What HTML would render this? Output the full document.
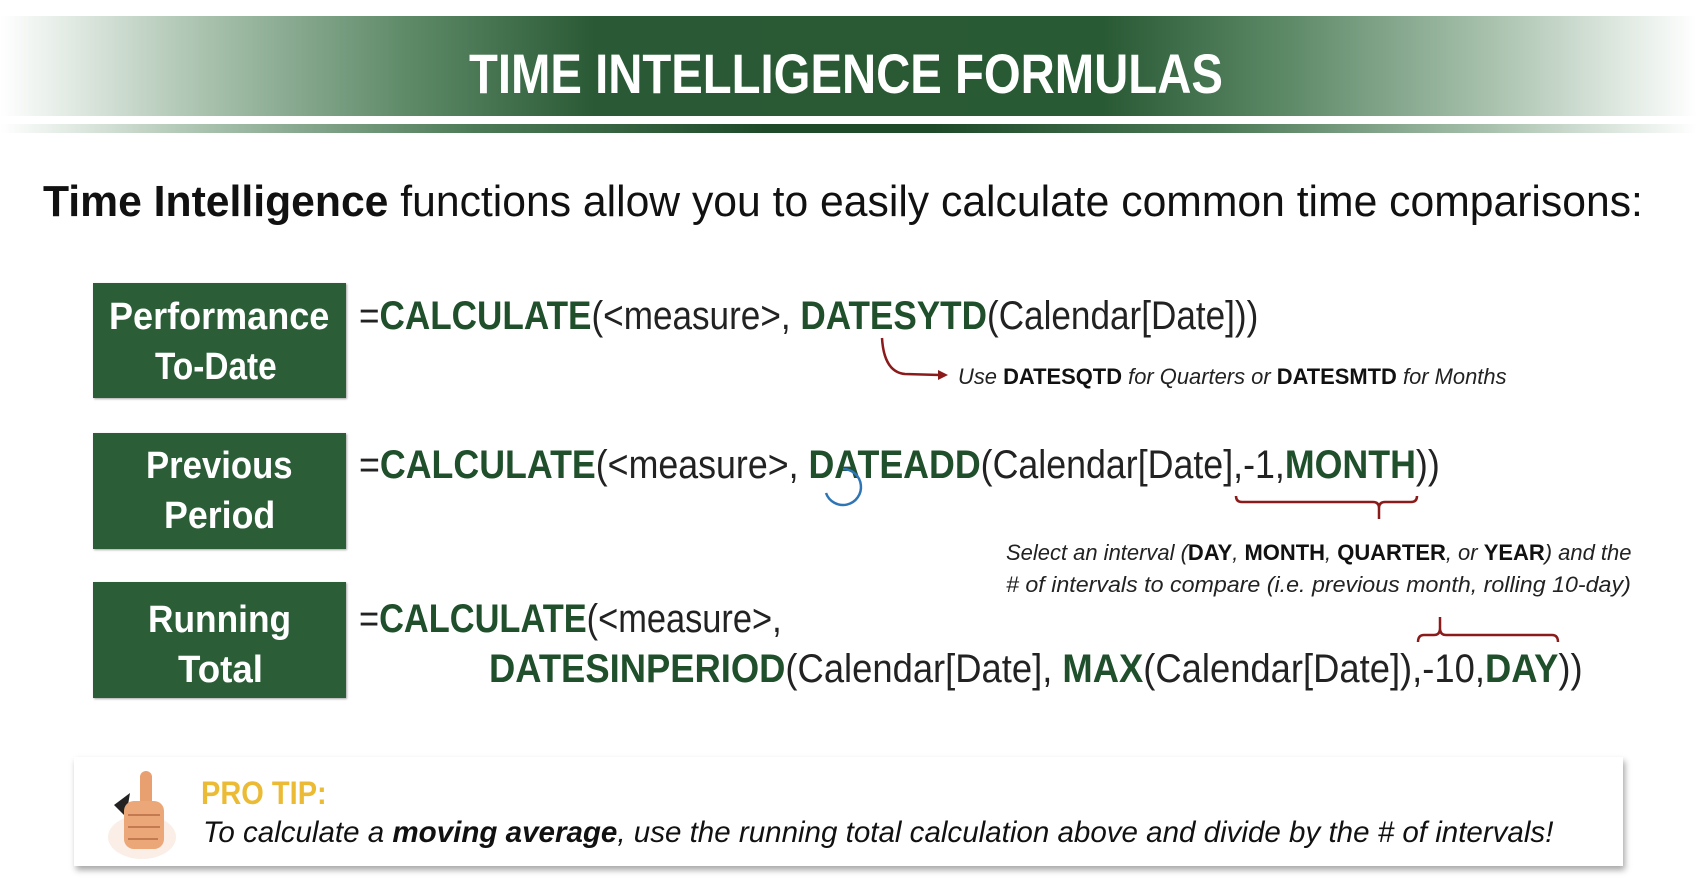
<!DOCTYPE html>
<html><head><meta charset="utf-8">
<style>
html,body{margin:0;padding:0;background:#fff;}
body{width:1697px;height:883px;position:relative;overflow:hidden;font-family:"Liberation Sans",sans-serif;}
.t{position:absolute;white-space:nowrap;line-height:1;transform-origin:0 0;}
.g{color:#1f4f2b;font-weight:bold;}
.box{position:absolute;left:93px;width:253px;background:#2b5d37;box-shadow:1px 1px 2px rgba(0,0,0,.35);}
.bl{position:absolute;color:#fff;font-weight:bold;font-size:38px;white-space:nowrap;line-height:1;transform-origin:0 0;}
.it{font-style:italic;color:#222;}
.it b{font-style:normal;color:#111;}
</style></head>
<body>
<div style="position:absolute;left:0;top:16px;width:1697px;height:100px;background:linear-gradient(90deg,#fff 0%,#a9c2ae 12%,#5e8a68 24%,#2a5a35 35%,#285a34 65%,#5e8a68 76%,#a9c2ae 88%,#fff 100%);"></div>
<div style="position:absolute;left:0;top:124px;width:1697px;height:9px;background:linear-gradient(90deg,#fff 0%,#a9c2ae 12%,#4c7a56 28%,#1f4a2a 45%,#1f4a2a 55%,#4c7a56 72%,#a9c2ae 88%,#fff 100%);"></div>
<div class="t" id="title" style="color:#fff;font-weight:bold;font-size:56px;" data-w="754" data-x="469" data-b="94">TIME INTELLIGENCE FORMULAS</div>

<div class="t" style="font-size:44px;color:#111;" data-w="1600" data-x="43" data-b="217"><b>Time Intelligence</b> functions allow you to easily calculate common time comparisons:</div>

<div class="box" style="top:283px;height:115px;"></div>
<div class="bl" data-w="220" data-x="109" data-b="330">Performance</div>
<div class="bl" data-w="122" data-x="155" data-b="380">To-Date</div>

<div class="box" style="top:433px;height:116px;"></div>
<div class="bl" data-w="147" data-x="146" data-b="479">Previous</div>
<div class="bl" data-w="111" data-x="164" data-b="529">Period</div>

<div class="box" style="top:582px;height:116px;"></div>
<div class="bl" data-w="143" data-x="148" data-b="633">Running</div>
<div class="bl" data-w="85" data-x="178" data-b="683">Total</div>

<div class="t" style="font-size:40px;color:#222;" data-w="899" data-x="359" data-b="330">=<span class="g">CALCULATE</span>(&lt;measure&gt;, <span class="g">DATESYTD</span>(Calendar[Date]))</div>
<div class="t" style="font-size:40px;color:#222;" data-w="1081" data-x="359" data-b="479">=<span class="g">CALCULATE</span>(&lt;measure&gt;, <span class="g">DATEADD</span>(Calendar[Date],-1,<span class="g">MONTH</span>))</div>
<div class="t" style="font-size:40px;color:#222;" data-w="423" data-x="359" data-b="633">=<span class="g">CALCULATE</span>(&lt;measure&gt;,</div>
<div class="t" style="font-size:40px;color:#222;" data-w="1094" data-x="489" data-b="683"><span class="g">DATESINPERIOD</span>(Calendar[Date], <span class="g">MAX</span>(Calendar[Date]),-10,<span class="g">DAY</span>))</div>

<svg width="1697" height="883" style="position:absolute;left:0;top:0;">
  <path d="M882 338 Q884 372 905 374 L940 375" fill="none" stroke="#8b1a1a" stroke-width="2.5"/>
  <path d="M938 370 L948 375 L938 380 Z" fill="#8b1a1a"/>
  <path d="M1236 496 Q1236 502 1242 502 L1373 502 Q1379 502 1379 508 Q1379 502 1385 502 L1411 502 Q1417 502 1417 496 M1379 508 L1379 519" fill="none" stroke="#8b1a1a" stroke-width="2.5"/>
  <path d="M1418 642 Q1418 635 1424 635 L1434 635 Q1440 635 1440 628 Q1440 635 1446 635 L1552 635 Q1558 635 1558 642 M1440 628 L1440 617" fill="none" stroke="#8b1a1a" stroke-width="2.5"/>
  <path d="M843 469 A18 18 0 1 1 826 493" fill="none" stroke="#2e75b6" stroke-width="2.5"/>
</svg>

<div class="t it" style="font-size:22px;" data-w="549" data-x="958" data-b="385">Use <b>DATESQTD</b> for Quarters or <b>DATESMTD</b> for Months</div>
<div class="t it" style="font-size:22px;" data-w="625" data-x="1006" data-b="561">Select an interval (<b>DAY</b>, <b>MONTH</b>, <b>QUARTER</b>, or <b>YEAR</b>) and the</div>
<div class="t it" style="font-size:22px;" data-w="625" data-x="1006" data-b="593"># of intervals to compare (i.e. previous month, rolling 10-day)</div>

<div style="position:absolute;left:74px;top:757px;width:1549px;height:109px;background:#fff;box-shadow:2px 4px 6px rgba(0,0,0,.35);"></div>
<svg width="80" height="100" style="position:absolute;left:100px;top:765px;">
  <ellipse cx="42" cy="72" rx="34" ry="22" fill="#f6e3d6" opacity=".6"/>
  <path d="M14 40 L30 28 L26 52 Z" fill="#222"/>
  <rect x="40" y="6" width="12" height="36" rx="6" fill="#e8a070"/>
  <rect x="24" y="36" width="40" height="48" rx="10" fill="#eba777"/>
  <path d="M28 50 H60 M28 62 H60 M28 74 H58" stroke="#c47a50" stroke-width="2"/>
</svg>
<div class="t" style="font-size:32px;font-weight:bold;color:#ecbb35;" data-w="126" data-x="201" data-b="804">PRO TIP:</div>
<div class="t it" style="font-size:30px;color:#111;" data-w="1350" data-x="203" data-b="843">To calculate a <b style="font-style:italic">moving average</b>, use the running total calculation above and divide by the # of intervals!</div>

<script>
document.querySelectorAll('[data-w]').forEach(function(el){
  var fs=parseFloat(getComputedStyle(el).fontSize);
  var w=el.scrollWidth;
  var s=parseFloat(el.getAttribute('data-w'))/w;
  el.style.left=el.getAttribute('data-x')+'px';
  el.style.top=(parseFloat(el.getAttribute('data-b'))-0.85*fs)+'px';
  el.style.transform='scaleX('+s+')';
});
</script>
</body></html>
